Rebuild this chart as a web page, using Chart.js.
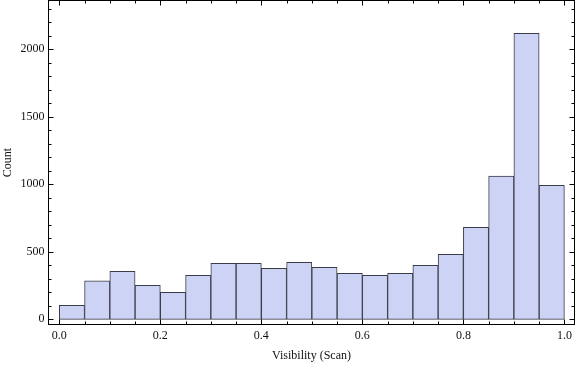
<!DOCTYPE html>
<html>
<head>
<meta charset="utf-8">
<script src="https://cdn.jsdelivr.net/npm/chart.js@4"></script>
<style>
  html, body { margin: 0; padding: 0; background: #fff; }
  #wrap { width: 576px; height: 366px; }
</style>
</head>
<body>
<div id="wrap"><canvas id="c" width="576" height="366"></canvas></div>
<script>
// Histogram bins (left edges), width 0.05
const binStarts = [0.00,0.05,0.10,0.15,0.20,0.25,0.30,0.35,0.40,0.45,0.50,0.55,0.60,0.65,0.70,0.75,0.80,0.85,0.90,0.95];
const binWidth = 0.05;
const counts = [104,286,355,252,200,326,415,415,378,422,385,341,326,341,400,481,681,1061,2118,992];
const xTickLabels = ["0.0","0.2","0.4","0.6","0.8","1.0"];
const xMajorTicks = [0,0.2,0.4,0.6,0.8,1.0];
const xMinorTicks = [0.05,0.1,0.15,0.25,0.3,0.35,0.45,0.5,0.55,0.65,0.7,0.75,0.85,0.9,0.95];
const yMajorTicks = [0,500,1000,1500,2000];
const yTickLabels = ["0","500","1000","1500","2000"];
const yMinorTicks = [100,200,300,400,600,700,800,900,1100,1200,1300,1400,1600,1700,1800,1900,2100,2200,2300];
const xTitle = "Visibility (Scan)";
const yTitle = "Count";

const FONT = "12px 'Liberation Serif', 'Times New Roman', serif";

const framePlugin = {
  id: 'frame',
  afterDraw(chart) {
    const ctx = chart.ctx;
    const a = chart.chartArea;
    const xs = chart.scales.x, ys = chart.scales.y;
    ctx.save();
    ctx.strokeStyle = '#000';
    ctx.lineWidth = 1;
    // frame
    ctx.strokeRect(Math.round(a.left) + 0.5, Math.round(a.top) + 0.5,
                   Math.round(a.right - a.left) - 1, Math.round(a.bottom - a.top) - 1);
    const L = Math.round(a.left) + 0.5, R = Math.round(a.right) - 0.5;
    const T = Math.round(a.top) + 0.5, B = Math.round(a.bottom) - 0.5;
    ctx.beginPath();
    const xt = (v, len) => {
      const p = Math.round(xs.getPixelForValue(v)) + 0.5;
      ctx.moveTo(p, B); ctx.lineTo(p, B - len);
      ctx.moveTo(p, T); ctx.lineTo(p, T + len);
    };
    const yt = (v, len) => {
      const p = Math.round(ys.getPixelForValue(v)) + 0.5;
      ctx.moveTo(L, p); ctx.lineTo(L + len, p);
      ctx.moveTo(R, p); ctx.lineTo(R - len, p);
    };
    xMajorTicks.forEach(v => xt(v, 5));
    xMinorTicks.forEach(v => xt(v, 3));
    yMajorTicks.forEach(v => yt(v, 5));
    yMinorTicks.forEach(v => yt(v, 3));
    ctx.stroke();
    // labels
    ctx.fillStyle = '#111';
    ctx.font = FONT;
    ctx.textAlign = 'center';
    ctx.textBaseline = 'middle';
    xMajorTicks.forEach((v, i) => {
      ctx.fillText(xTickLabels[i], xs.getPixelForValue(v), B + 11);
    });
    ctx.textAlign = 'right';
    yMajorTicks.forEach((v, i) => {
      ctx.fillText(yTickLabels[i], L - 4, ys.getPixelForValue(v));
    });
    ctx.textAlign = 'center';
    ctx.fillText(xTitle, (a.left + a.right) / 2, 356);
    ctx.save();
    ctx.translate(8, (a.top + a.bottom) / 2);
    ctx.rotate(-Math.PI / 2);
    ctx.fillText(yTitle, 0, 0);
    ctx.restore();
    ctx.restore();
  }
};

new Chart(document.getElementById('c'), {
  type: 'bar',
  data: {
    datasets: [{
      data: binStarts.map((s, i) => ({ x: s + binWidth / 2, y: counts[i] })),
      backgroundColor: 'rgb(204,211,245)',
      borderColor: 'rgb(60,60,72)',
      borderWidth: 1,
      barPercentage: 1,
      categoryPercentage: 1,
      borderSkipped: false
    }]
  },
  options: {
    responsive: false,
    animation: false,
    events: [],
    layout: { padding: { left: 48, right: 1, top: 0, bottom: 41 } },
    plugins: { legend: { display: false }, tooltip: { enabled: false } },
    scales: {
      x: { type: 'linear', min: -0.0224, max: 1.021, display: false, offset: false },
      y: { type: 'linear', min: -42, max: 2365, display: false }
    }
  },
  plugins: [framePlugin]
});
</script>
</body>
</html>
